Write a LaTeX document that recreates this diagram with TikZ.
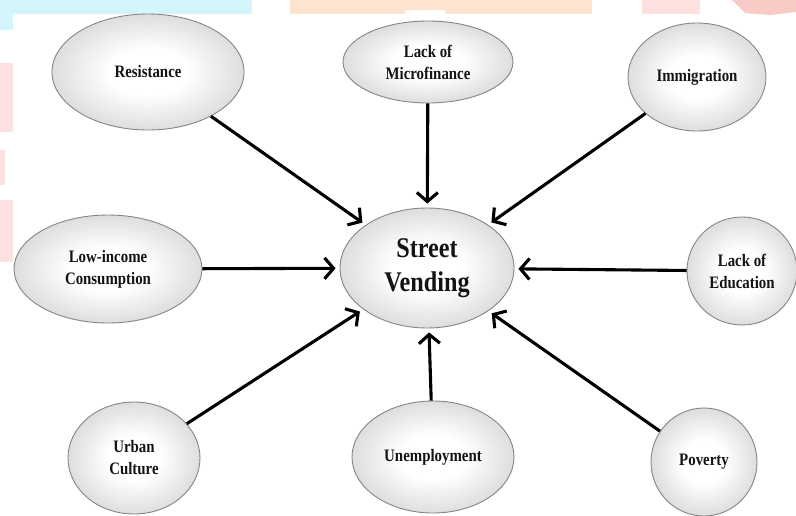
\documentclass[tikz,border=0pt]{standalone}
\usepackage{fontspec}
\newfontfamily\lblfont[FakeStretch=0.85]{Liberation Serif}
\usetikzlibrary{shapes.geometric,arrows.meta}

\definecolor{edgegray}{HTML}{858585}
\definecolor{rimgray}{HTML}{A6A6A6}
\definecolor{bandcyan}{HTML}{D3F5FC}
\definecolor{bandorange}{HTML}{FDE4CE}
\definecolor{bandpink}{HTML}{FDE1DF}
\definecolor{bandred}{HTML}{F9CBC6}

% white centre fading to grey at the rim of each bubble
\pgfdeclareradialshading{ballshade}{\pgfpoint{0bp}{0bp}}{%
  color(0bp)=(white); color(10bp)=(white); color(50bp)=(rimgray)}

\tikzset{
  cause/.style={ellipse, draw=edgegray, line width=0.9pt, shading=ballshade,
    inner sep=0pt, align=center, text=black!92,
    font=\lblfont\bfseries\fontsize{17.5}{22}\selectfont},
  hub/.style={cause, font=\lblfont\bfseries\fontsize{28.5}{34}\selectfont},
  arr/.style={line width=3.1pt, -{Straight Barb[length=9pt,width=21pt]},
    shorten >=4pt},
}

\begin{document}
\begin{tikzpicture}[x=1pt,y=-1pt]
\useasboundingbox (0,0) rectangle (796,515);
\fill[white] (0,0) rectangle (796,515);

% faint coloured bands along the top and left edges
\fill[bandcyan] (0,0) rectangle (252,14);
\fill[bandcyan] (0,14) rectangle (13,30);
\fill[bandorange] (290,0) rectangle (592,14);
\fill[white] (405,10) rectangle (445,14);
\fill[bandpink] (642,0) rectangle (700,14);
\fill[bandred] (732,0) -- (796,0) -- (796,12) -- (770,15) -- (745,13) -- cycle;
\fill[bandpink] (0,63) rectangle (13,132);
\fill[bandpink] (0,150) rectangle (5,185);
\fill[bandpink] (0,200) rectangle (13,262);

% bubbles
\node[hub, minimum width=174pt, minimum height=120pt] (sv) at (427,268) {Street\\Vending};

\node[cause, minimum width=192pt, minimum height=116pt] (res) at (148,72) {Resistance};
\node[cause, minimum width=170pt, minimum height=82pt] (mic) at (428,62) {Lack of\\Microfinance};
\node[cause, minimum width=138pt, minimum height=108pt] (imm) at (697,77) {Immigration};
\node[cause, minimum width=188pt, minimum height=108pt] (low) at (108,269) {Low-income\\Consumption};
\node[cause, minimum width=110pt, minimum height=108pt] (edu) at (742,271) {Lack of\\Education};
\node[cause, minimum width=132pt, minimum height=112pt] (urb) at (134,458) {Urban\\Culture};
\node[cause, minimum width=162pt, minimum height=112pt] (une) at (433,457) {Unemployment};
\node[cause, minimum width=106pt, minimum height=108pt] (pov) at (704,462) {Poverty};

% causes pointing at the centre
\foreach \n in {res,mic,imm,low,edu,urb,une,pov}
  \draw[arr] (\n) -- (sv);
\end{tikzpicture}
\end{document}
